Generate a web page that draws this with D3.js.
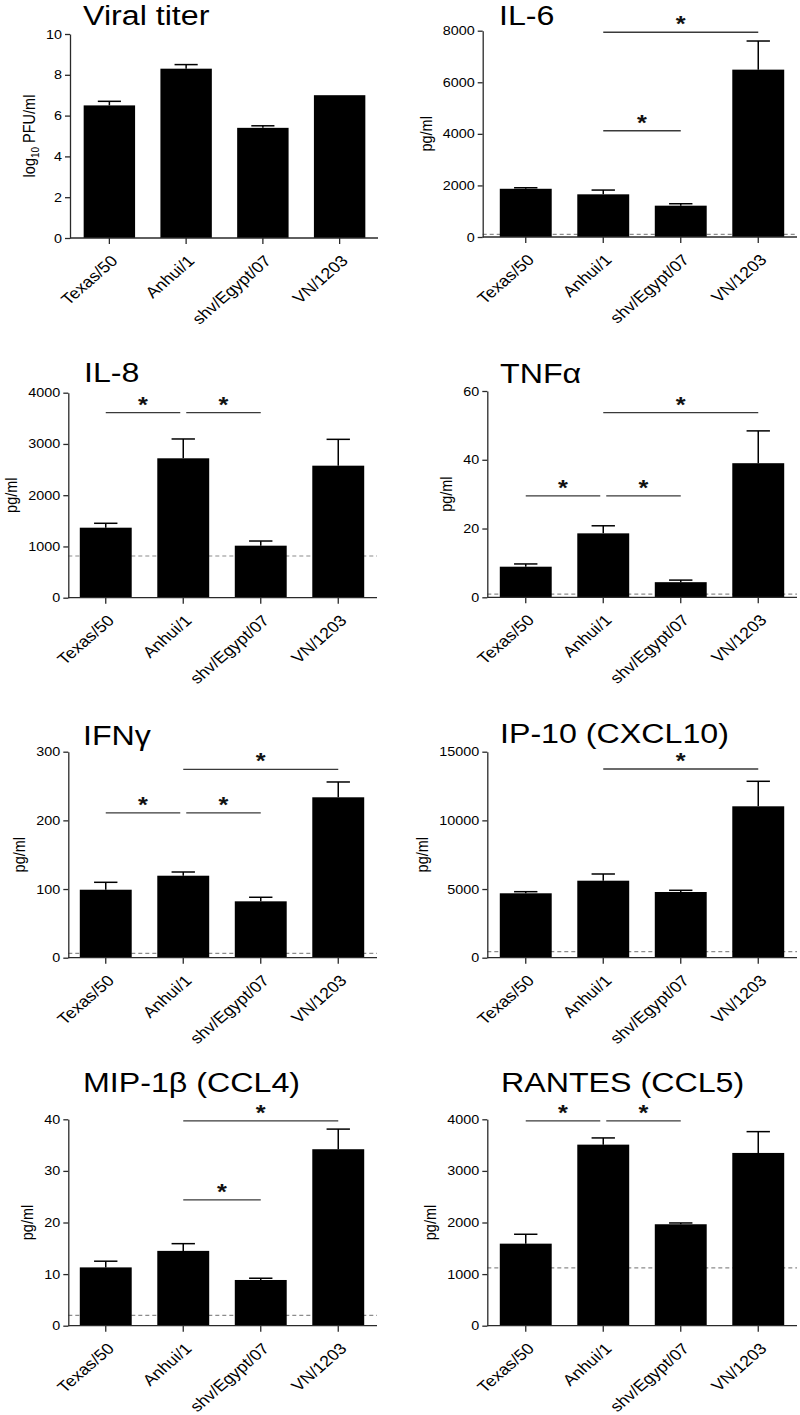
<!DOCTYPE html>
<html><head><meta charset="utf-8">
<script src="https://cdn.jsdelivr.net/npm/d3@7"></script>
<style>html,body{margin:0;padding:0;background:#fff;} svg{display:block;}</style>
</head><body><svg id="chart" width="800" height="1415"></svg>
<script>
// ---------- DATA ----------
const strains = ["Texas/50", "Anhui/1", "shv/Egypt/07", "VN/1203"];

const titles = ["Viral titer", "IL-6", "IL-8", "TNFα", "IFNγ", "IP-10 (CXCL10)", "MIP-1β (CCL4)", "RANTES (CCL5)"];

const viralMean = [6.5, 8.3, 5.4, 7.0];
const viralSem  = [0.2, 0.2, 0.1, 0];
const viralTicks = [0, 2, 4, 6, 8, 10];

const il6Mean = [1870, 1655, 1215, 6490];
const il6Sem  = [40, 165, 75, 1110];
const il6Ticks = [0, 2000, 4000, 6000, 8000];
const il6Lod = 100;
const il6Sig = [[1, 3, 7940], [1, 2, 4120]];

const il8Mean = [1366, 2720, 1015, 2576];
const il8Sem  = [86, 377, 91, 514];
const il8Ticks = [0, 1000, 2000, 3000, 4000];
const il8Lod = 814;
const il8Sig = [[0, 1, 3610], [1, 2, 3610]];

const tnfMean = [8.9, 18.6, 4.4, 39.0];
const tnfSem  = [0.8, 2.2, 0.6, 9.4];
const tnfTicks = [0, 20, 40, 60];
const tnfLod = 0.9;
const tnfSig = [[1, 3, 53.7], [0, 1, 29.5], [1, 2, 29.5]];

const ifnMean = [99, 119.4, 82.1, 233.6];
const ifnSem  = [10.8, 5.4, 5.9, 22.3];
const ifnTicks = [0, 100, 200, 300];
const ifnLod = 6.4;
const ifnSig = [[1, 3, 274.4], [0, 1, 211], [1, 2, 211]];

const ip10Mean = [4690, 5607, 4784, 11024];
const ip10Sem  = [117, 488, 124, 1821];
const ip10Ticks = [0, 5000, 10000, 15000];
const ip10Lod = 437;
const ip10Sig = [[1, 3, 13740]];

const mipMean = [11.3, 14.5, 8.86, 34.2];
const mipSem  = [1.2, 1.4, 0.34, 3.9];
const mipTicks = [0, 10, 20, 30, 40];
const mipLod = 2.0;
const mipSig = [[1, 3, 39.7], [1, 2, 24.4]];

const rantesMean = [1590, 3509, 1966, 3348];
const rantesSem  = [182, 130, 25, 413];
const rantesTicks = [0, 1000, 2000, 3000, 4000];
const rantesLod = 1119;
const rantesSig = [[0, 1, 3968], [1, 2, 3968]];

const yLabels = ["log10 PFU/ml", "pg/ml", "pg/ml", "pg/ml", "pg/ml", "pg/ml", "pg/ml", "pg/ml"];

// ---------- LAYOUT (pixels) ----------
const layouts = [
  {axisX: 70,    xRange: [71, 378],  yTop: 34,     y0: 238,    titleX: 83,  titleY: 25},
  {axisX: 482.7, xRange: [487, 797], yTop: 30.7,   y0: 237,    titleX: 499, titleY: 25},
  {axisX: 68.3,  xRange: [67, 377],  yTop: 392.7,  y0: 597.7,  titleX: 84,  titleY: 382},
  {axisX: 487.3, xRange: [487, 797], yTop: 391,    y0: 597.3,  titleX: 500, titleY: 383},
  {axisX: 68.3,  xRange: [67, 377],  yTop: 751.7,  y0: 957.7,  titleX: 83,  titleY: 745},
  {axisX: 487.3, xRange: [487, 797], yTop: 751.7,  y0: 957.7,  titleX: 500, titleY: 743},
  {axisX: 68.3,  xRange: [67, 377],  yTop: 1119.3, y0: 1325.7, titleX: 83,  titleY: 1092},
  {axisX: 487.3, xRange: [487, 797], yTop: 1119.3, y0: 1325.7, titleX: 501, titleY: 1092}
];

const panels = [
  {mean: viralMean,  sem: viralSem,  ticks: viralTicks,  lod: null,      sig: []},
  {mean: il6Mean,    sem: il6Sem,    ticks: il6Ticks,    lod: il6Lod,    sig: il6Sig},
  {mean: il8Mean,    sem: il8Sem,    ticks: il8Ticks,    lod: il8Lod,    sig: il8Sig},
  {mean: tnfMean,    sem: tnfSem,    ticks: tnfTicks,    lod: tnfLod,    sig: tnfSig},
  {mean: ifnMean,    sem: ifnSem,    ticks: ifnTicks,    lod: ifnLod,    sig: ifnSig},
  {mean: ip10Mean,   sem: ip10Sem,   ticks: ip10Ticks,   lod: ip10Lod,   sig: ip10Sig},
  {mean: mipMean,    sem: mipSem,    ticks: mipTicks,    lod: mipLod,    sig: mipSig},
  {mean: rantesMean, sem: rantesSem, ticks: rantesTicks, lod: rantesLod, sig: rantesSig}
].map((p, i) => Object.assign(p, {title: titles[i], yLabel: yLabels[i], layout: layouts[i]}));

// ---------- DRAW ----------
const SX = 1.15;
const FONT = "'Liberation Sans', Arial, Helvetica, sans-serif";
const AX = "#2a2a2a";

const svg = d3.select("#chart").attr("font-family", FONT);
svg.append("rect").attr("width", 800).attr("height", 1415).attr("fill", "#fff");

panels.forEach((p, pi) => {
  const L = p.layout;
  const g = svg.append("g");
  const yMax = d3.max(p.ticks);
  const x = d3.scaleBand().domain(strains).range(L.xRange).paddingInner(0.33).paddingOuter(0.165);
  const y = d3.scaleLinear().domain([0, yMax]).range([L.y0, L.yTop]);
  const cx = s => x(s) + x.bandwidth() / 2;
  const rows = strains.map((s, i) => ({s, m: p.mean[i], e: p.sem[i]}));

  // detection limit (dashed)
  if (p.lod != null) {
    g.append("line")
      .attr("x1", L.axisX).attr("x2", L.xRange[1])
      .attr("y1", y(p.lod)).attr("y2", y(p.lod))
      .attr("stroke", "#8c8c8c").attr("stroke-width", 1.2).attr("stroke-dasharray", "4,3");
  }

  // bars
  g.selectAll("rect.bar").data(rows).join("rect").attr("class", "bar")
    .attr("x", d => x(d.s)).attr("width", x.bandwidth())
    .attr("y", d => y(d.m)).attr("height", d => y(0) - y(d.m))
    .attr("fill", "#000");

  // error bars (upper only)
  const capW = x.bandwidth() * 0.45;
  const eb = g.selectAll("g.eb").data(rows.filter(d => d.e > 0)).join("g").attr("class", "eb")
    .attr("stroke", "#000").attr("stroke-width", 1.5);
  eb.append("line").attr("x1", d => cx(d.s)).attr("x2", d => cx(d.s))
    .attr("y1", d => y(d.m)).attr("y2", d => y(d.m + d.e));
  eb.append("line").attr("x1", d => cx(d.s) - capW / 2).attr("x2", d => cx(d.s) + capW / 2)
    .attr("y1", d => y(d.m + d.e)).attr("y2", d => y(d.m + d.e));

  // y axis
  const ya = g.append("g").attr("transform", `translate(${L.axisX},0)`)
    .call(d3.axisLeft(y).tickValues(p.ticks).tickFormat(d3.format("d")).tickSizeInner(5).tickSizeOuter(0).tickPadding(3));
  ya.select(".domain").attr("stroke", AX).attr("stroke-width", 1.3);
  ya.selectAll(".tick line").attr("stroke", AX).attr("stroke-width", 1.3);
  const tickTexts = ya.selectAll(".tick text")
    .attr("font-family", FONT).attr("font-size", 12.5).attr("fill", "#000")
    .attr("x", 0).attr("transform", `translate(-8,0) scale(${SX},1)`);
  let maxW = 0;
  tickTexts.each(function () { maxW = Math.max(maxW, this.getComputedTextLength() * SX); });

  // x axis
  g.append("line").attr("x1", L.axisX).attr("x2", L.xRange[1]).attr("y1", L.y0).attr("y2", L.y0)
    .attr("stroke", AX).attr("stroke-width", 1.3);
  g.selectAll("line.xt").data(strains).join("line").attr("class", "xt")
    .attr("x1", d => cx(d)).attr("x2", d => cx(d)).attr("y1", L.y0).attr("y2", L.y0 + 6)
    .attr("stroke", AX).attr("stroke-width", 1.3);
  g.selectAll("text.xl").data(strains).join("text").attr("class", "xl")
    .attr("transform", d => `translate(${cx(d) + 5},${L.y0 + 20}) scale(${SX},1) rotate(-45)`)
    .attr("text-anchor", "end").attr("dy", "0.35em")
    .attr("font-size", 15.5).attr("fill", "#000").text(d => d);

  // y label
  const ylx = L.axisX - 8 - maxW - 17;
  const yl = g.append("text")
    .attr("transform", `translate(${ylx},${(L.yTop + L.y0) / 2}) scale(${SX},1) rotate(-90)`)
    .attr("text-anchor", "middle").attr("dy", "0.35em")
    .attr("font-size", 14.5).attr("fill", "#000");
  if (p.yLabel.startsWith("log10")) {
    yl.append("tspan").text("log");
    yl.append("tspan").attr("font-size", 10).attr("dy", 4).text("10");
    yl.append("tspan").attr("dy", -4).text(" PFU/ml");
  } else {
    yl.text(p.yLabel);
  }

  // title
  g.append("text").attr("transform", `translate(${L.titleX},${L.titleY}) scale(${SX},1)`)
    .attr("font-size", 28).attr("fill", "#000").text(p.title);

  // significance brackets
  p.sig.forEach(([a, b, v], k) => {
    let x1 = cx(strains[a]), x2 = cx(strains[b]);
    p.sig.forEach(([a2, b2, v2], k2) => {
      if (k2 === k || v2 !== v) return;
      if (b2 === a) x1 += 3;
      if (a2 === b) x2 -= 3;
    });
    g.append("line").attr("x1", x1).attr("x2", x2).attr("y1", y(v)).attr("y2", y(v))
      .attr("stroke", "#3a3a3a").attr("stroke-width", 1.3);
    g.append("text").attr("transform", `translate(${(x1 + x2) / 2},${y(v) - 1}) scale(${SX},1)`)
      .attr("text-anchor", "middle").attr("font-size", 22).attr("font-weight", "bold")
      .attr("fill", "#111").text("*");
  });
});
</script>
</body></html>
